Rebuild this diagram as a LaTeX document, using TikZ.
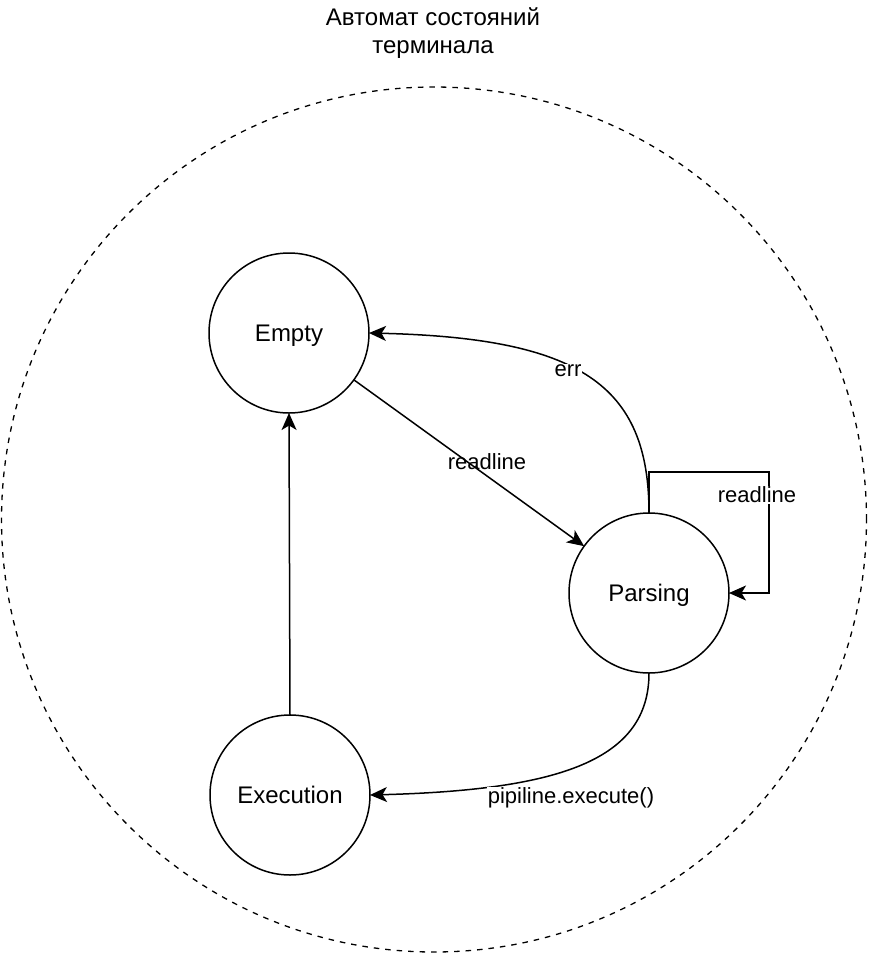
\documentclass[tikz,border=0pt]{standalone}
\usepackage{fontspec}
\setmainfont{Liberation Sans}
\usetikzlibrary{arrows.meta}
\begin{document}
\begin{tikzpicture}[x=1pt,y=-1pt,
  state/.style={circle,draw,line width=1.5pt,minimum size=160pt,inner sep=0pt,outer sep=0pt,text height=17pt,text depth=0pt,font=\fontsize{24}{28}\selectfont},
  conn/.style={line width=1.5pt,-{Stealth[length=17pt,width=15pt,inset=4.5pt]}},
  elabel/.style={font=\fontsize{22}{26}\selectfont,inner sep=1pt},
  wlabel/.style={elabel,fill=white},
  ttl/.style={font=\fontsize{24}{28}\selectfont,align=center}]
\useasboundingbox (0,0) rectangle (870,954);
\node[circle,draw,dash pattern=on 5.5pt off 6pt,line width=1.3pt,minimum size=865pt,inner sep=0pt] (outer) at (434,519.5) {};
\node[ttl] (title) at (433,33) {Автомат состояний\\терминала};
\node[state] (e) at (289,333) {Empty};
\node[state] (p) at (649,593) {Parsing};
\node[state] (x) at (290,795) {Execution};
\coordinate (l1) at (649,472);
\coordinate (l2) at (769,472);
\coordinate (l3) at (769,593);
% Empty -> Parsing
\draw[conn] (e) -- (p);
\node[elabel] (lr1) at (487,462) {readline};
% Parsing -> Empty (err)
\draw[conn] (p.north) .. controls (649,385) and (580,338) .. (e.east);
\node[wlabel] (lerr) at (568,371) {err};
% self loop
\draw[conn] (p.north) -- (l1) -- (l2) -- (l3) -- (p.east);
\node[wlabel] (lr2) at (757,495) {readline};
% Parsing -> Execution
\draw[conn] (p.south) .. controls (649,760) and (560,790) .. (x.east);
\node[wlabel] (lpe) at (571,798) {pipiline.execute()};
% Execution -> Empty
\draw[conn] (x.north) -- (e.south);
\end{tikzpicture}
\end{document}
